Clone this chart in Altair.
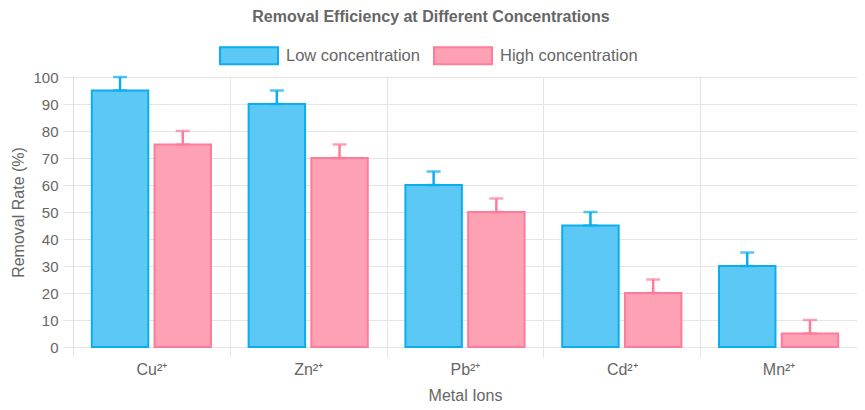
import altair as alt
import pandas as pd

ions = ["Cu²⁺", "Zn²⁺", "Pb²⁺", "Cd²⁺", "Mn²⁺"]
series = ["Low concentration", "High concentration"]
low_vals = [95, 90, 60, 45, 30]
high_vals = [75, 70, 50, 20, 5]
low_err = [5, 5, 5, 5, 5]
high_err = [5, 5, 5, 5, 5]

fill_colors = ["#5CC8F5", "#FFA1B5"]
stroke_colors = ["#0AAEEE", "#FF7B9A"]

rows = []
for i, ion in enumerate(ions):
    rows.append({"ion": ion, "conc": series[0], "value": low_vals[i], "upper": low_vals[i] + low_err[i]})
    rows.append({"ion": ion, "conc": series[1], "value": high_vals[i], "upper": high_vals[i] + high_err[i]})
df = pd.DataFrame(rows)

FONT = "Liberation Sans"
TXT = "#666666"
GRID = "#e5e5e5"

x_axis = alt.Axis(
    title="Metal Ions",
    labelAngle=0,
    tickBand="extent",
    grid=True,
    gridColor=GRID,
    tickColor=GRID,
    tickSize=10,
    domainColor=GRID,
    labelFontSize=16,
    labelColor=TXT,
    labelPadding=4,
    titleFontSize=16,
    titleFontWeight="normal",
    titleColor=TXT,
    titlePadding=10,
)
x_scale = alt.Scale(paddingInner=0, paddingOuter=0)
y_axis = alt.Axis(
    title="Removal Rate (%)",
    values=list(range(0, 101, 10)),
    labelOverlap=False,
    grid=True,
    gridColor=GRID,
    tickColor=GRID,
    tickSize=10,
    domainColor="#dddddd",
    labelFontSize=15,
    labelColor=TXT,
    labelPadding=5,
    titleFontSize=16,
    titleFontWeight="normal",
    titleColor=TXT,
    titlePadding=6,
)
y_scale = alt.Scale(domain=[0, 100], nice=False)


def xe():
    return alt.X("ion:N", sort=ions, scale=x_scale, axis=x_axis)


def ye(field):
    return alt.Y(field + ":Q", scale=y_scale, axis=y_axis)


xoff = alt.XOffset("conc:N", sort=series, scale=alt.Scale(paddingInner=0.1, paddingOuter=0.3))

legend = alt.Legend(
    title=None,
    orient="none",
    legendX=146,
    legendY=-51.5,
    direction="horizontal",
    symbolType="M-1,-0.293H1V0.293H-1Z",
    symbolSize=3364,
    symbolStrokeWidth=2,
    labelFontSize=16.5,
    labelColor=TXT,
    labelFont=FONT,
    labelOffset=7,
    columnPadding=10,
)

bars = alt.Chart(df).mark_bar(strokeWidth=2).encode(
    x=xe(),
    xOffset=xoff,
    y=ye("value"),
    fill=alt.Fill("conc:N", sort=series, scale=alt.Scale(domain=series, range=fill_colors), legend=legend),
    stroke=alt.Stroke("conc:N", sort=series, scale=alt.Scale(domain=series, range=stroke_colors), legend=legend),
)

err_color = alt.Color("conc:N", scale=alt.Scale(domain=series, range=stroke_colors), legend=None)

rule = alt.Chart(df).mark_rule(strokeWidth=2.5).encode(
    x=xe(),
    xOffset=xoff,
    y=ye("value"),
    y2="upper:Q",
    color=err_color,
)
cap_top = alt.Chart(df).mark_tick(thickness=2.5, size=14).encode(
    x=xe(),
    xOffset=xoff,
    y=ye("upper"),
    color=err_color,
)
cap_bot = alt.Chart(df).mark_tick(thickness=2.5, size=14).encode(
    x=xe(),
    xOffset=xoff,
    y=ye("value"),
    color=err_color,
)

chart = (
    alt.layer(bars, rule, cap_top, cap_bot)
    .properties(
        width=784,
        height=270,
        autosize=alt.AutoSizeParams(type="none"),
        padding={"left": 65, "top": 69, "right": 0, "bottom": 55},
        title=alt.Title(
            "Removal Efficiency at Different Concentrations",
            fontSize=16,
            fontWeight="bold",
            color=TXT,
            font=FONT,
            anchor="middle",
            offset=1,
            dx=-34,
        ),
    )
    .configure(font=FONT)
    .configure_view(stroke=None)
    .configure_axis(labelFont=FONT, titleFont=FONT)
)

chart.save("out.html", embed_options={"renderer": "svg", "actions": False})
